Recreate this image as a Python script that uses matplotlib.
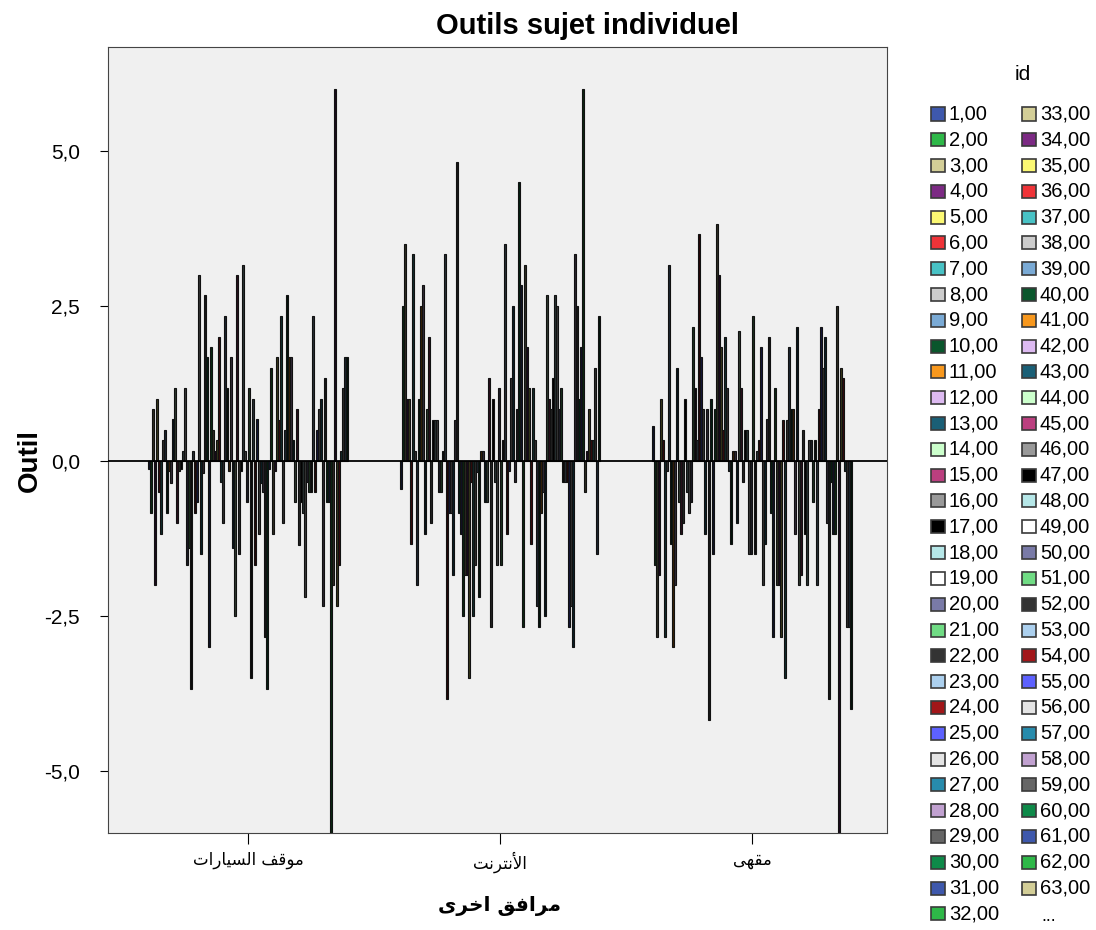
import matplotlib.pyplot as plt
import matplotlib.colors as mcolors
import numpy as np
from matplotlib.patches import Rectangle

plt.rcParams['font.family'] = ['Liberation Sans', 'DejaVu Sans']

# Arabic is written in presentation forms, visual order (matplotlib does no shaping)
categories = ['\uFE95\uFE8D\uFEAD\uFE8E\uFEF4\uFEB4\uFEDF\uFE8D \uFED2\uFED7\uFEEE\uFEE3',   # موقف السيارات
              '\uFE96\uFEE7\uFEAE\uFE98\uFEE7\uFEF7\uFE8D',                                # الأنترنت
              '\uFEF0\uFEEC\uFED8\uFEE3']                                                  # مقهى
xlabel = '\uFEEF\uFEAE\uFEA7\uFE8D \uFED6\uFED3\uFE8D\uFEAE\uFEE3'                         # مرافق اخرى

# one value per id (1..100)
parking = [-0.12, -0.84, 0.84, -2.0, 1.0, -0.5, -1.17, 0.34, 0.5, -0.84,
           -0.16, -0.35, 0.68, 1.18, -1.0, -0.16, -0.12, 0.16, 1.18, -1.68,
           -1.4, -3.67, 0.16, -0.84, -0.66, 3.0, -1.5, -0.2, 2.68, 1.68,
           -3.0, 1.84, 0.5, 0.16, 0.34, 2.0, -0.34, -1.0, 2.34, 1.18,
           -0.16, 1.68, -1.4, -2.5, 3.0, -1.5, -0.16, 3.17, 0.16, -0.66,
           1.18, -3.5, 1.0, -1.68, 0.68, -1.17, -0.35, -0.5, -2.84, -3.67,
           -0.12, 1.5, -1.17, -0.16, 1.68, 0.66, 2.34, -1.0, 0.5, 2.68,
           1.68, 1.68, 0.34, -0.66, 0.84, -1.35, -0.66, -0.84, -2.2, -0.34,
           -0.5, -0.5, 2.34, -0.5, 0.5, 0.84, 1.0, -2.34, 1.34, -0.66,
           -0.66, -6.0, -2.0, 6.0, -2.34, -1.68, 0.16, 1.18, 1.68, 1.68]
internet = [-0.45, 2.5, 3.5, 1.0, 1.0, -1.34, 3.34, 0.16, -2.0, 1.0,
            2.5, 2.84, -1.17, 0.84, 2.0, -1.0, 0.66, 0.66, 0.66, -0.5,
            -0.5, 0.16, 3.34, -3.84, -0.84, -0.84, -1.84, 0.66, 4.83, -0.84,
            -1.17, -2.5, -1.84, -1.84, -3.5, -0.34, -2.5, -1.68, -0.18, -2.2,
            0.16, 0.16, -0.66, -0.66, 1.34, -2.68, 1.0, -0.34, -1.68, 1.18,
            -1.68, 0.34, 3.5, -1.17, -0.16, 1.34, 2.5, -0.34, 0.84, 4.5,
            2.84, -2.68, 3.17, 1.84, 1.18, -1.34, 1.18, 0.34, -2.34, -2.68,
            -0.84, -0.5, -2.5, 2.68, 1.0, 0.84, 1.34, 2.68, 2.5, 0.84,
            1.18, -0.34, -0.34, -0.34, -2.68, -2.34, -3.0, 3.34, 2.5, 1.0,
            1.84, 6.0, -0.5, 0.16, 0.84, 0.34, 0.34, 1.5, -1.5, 2.34]
cafe = [0.56, -1.68, -2.84, -1.84, 1.0, 0.34, -2.84, -0.16, 3.17, -1.34,
        -3.0, -2.0, 1.5, -0.66, -1.17, -1.0, 1.0, -0.5, -0.84, -0.66,
        2.17, 1.18, 0.34, 3.67, 1.68, 0.84, -1.17, 0.84, -4.18, 1.0,
        -1.5, 0.84, 3.83, 3.0, 1.84, 0.5, 2.0, 1.18, -0.16, -1.34,
        0.16, 0.16, -1.0, 2.1, 1.18, -0.34, 0.5, 0.5, -1.5, -1.5,
        2.34, -1.5, 0.16, 0.34, 1.84, -2.0, -1.34, 0.68, 2.0, -0.84,
        -2.84, 1.18, -2.0, -2.0, -2.84, 0.66, -3.5, 0.66, 1.84, 0.84,
        0.84, -1.17, 2.17, -2.0, -1.84, 0.5, -1.17, -2.0, 0.34, 0.34,
        -0.66, 0.34, -2.0, 0.84, 2.17, 1.5, 2.0, -1.0, -3.84, -0.34,
        -1.17, -1.17, 2.5, -6.0, 1.5, 1.34, -0.16, -2.68, -2.68, -4.0]

ids = np.arange(1, len(parking) + 1)
yticks = [-5.0, -2.5, 0.0, 2.5, 5.0]

# SPSS default colour cycle (repeats every 30 ids)
palette = ['#3E58AC', '#2EB848', '#D3CE97', '#7C2A84', '#FBF873', '#EF3338',
           '#48C2C5', '#CCCCCC', '#7AAAD5', '#0A562C', '#F8981D', '#DDBAF1',
           '#1A5F76', '#CCFFCC', '#BB3F7F', '#999999', '#000000', '#B6E7E8',
           '#FFFFFF', '#797AA7', '#70DC84', '#333333', '#ACD0EE', '#A21619',
           '#5D61FF', '#E4E4E4', '#278BAC', '#C1A1D0', '#666666', '#0E8A49']

W, H = 1096, 930
fig = plt.figure(figsize=(W / 100, H / 100), dpi=100)
ax = fig.add_axes([108 / W, 1 - 833 / H, (887 - 108) / W, (833 - 47) / H])
ax.set_facecolor('#F0F0F0')

x = np.arange(len(categories))
n = len(ids)
bw = 0.794 / n
offsets = (np.arange(n) - (n - 1) / 2) * bw
# bars are so thin that the black outline swallows the fill: keep only a dark tint
for i, pid in enumerate(ids):
    vals = [parking[i], internet[i], cafe[i]]
    tint = np.array(mcolors.to_rgb(palette[(pid - 1) % 30])) * 0.22
    ax.bar(x + offsets[i], vals, width=bw * 1.4, color=tint,
           edgecolor='#111111', linewidth=0.8)

ax.axhline(0, color='black', lw=1.3, zorder=3)
ax.set_xlim(-0.556, 2.536)
ax.set_ylim(-6.0, 6.68)
ax.set_yticks(yticks, [f"{v:.1f}".replace('.', ',') for v in yticks], fontsize=15)
ax.set_xticks(x, categories, fontsize=12, family='DejaVu Sans')
ax.tick_params(axis='y', length=6, pad=14)
ax.tick_params(axis='x', length=8, pad=5)
for s in ax.spines.values():
    s.set_color('#444444')

fig.text(588 / W, 1 - 26 / H, 'Outils sujet individuel', ha='center', va='center',
         fontsize=21, fontweight='bold')
fig.text(30 / W, 1 - 460 / H, 'Outil', ha='center', va='center', rotation=90,
         fontsize=20, fontweight='bold')
fig.text(500 / W, 1 - 906 / H, xlabel, ha='center', va='center',
         fontsize=14.5, fontweight='bold', family='DejaVu Sans')

# legend, drawn by hand: two columns of 32 rows
fig.text(1023 / W, 1 - 75 / H, 'id', ha='center', va='center', fontsize=15)
shown = list(ids[:63])
for k, pid in enumerate(shown + [None]):
    col, row = divmod(k, 32)
    yc = 114 + row * 25.8
    x0 = 931 if col == 0 else 1022
    if pid is None:
        fig.text((x0 + 27) / W, 1 - (yc + 3) / H, '...', ha='center', va='center', fontsize=13)
        continue
    fig.add_artist(Rectangle((x0 / W, 1 - (yc + 6.5) / H), 14 / W, 13 / H,
                             transform=fig.transFigure, facecolor=palette[(pid - 1) % 30],
                             edgecolor='#3a3a3a', linewidth=1.2))
    fig.text((x0 + 18) / W, 1 - yc / H, f"{pid},00", ha='left', va='center', fontsize=14.5)

fig.savefig('out.png', dpi=100)
